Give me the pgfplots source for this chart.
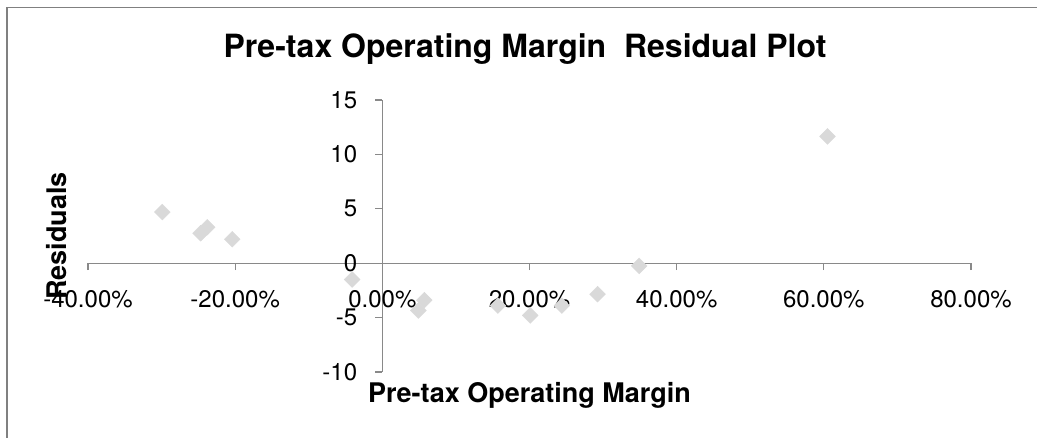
\documentclass[border=0pt]{standalone}
\usepackage{pgfplots}
\pgfplotsset{compat=1.18}
\usepackage{fontspec}
\setmainfont{TeX Gyre Heros}
\definecolor{axgray}{RGB}{137,137,137}
\definecolor{frgray}{RGB}{128,128,128}
\definecolor{mkgray}{RGB}{217,217,217}
\begin{document}
\begin{tikzpicture}[x=1pt,y=1pt]
\useasboundingbox (0,0) rectangle (1037,438);
\draw[frgray, line width=1.5pt] (6.75,0) -- (6.75,430.25) -- (1037,430.25);
\begin{axis}[
  at={(88pt,66pt)}, anchor=south west,
  scale only axis, width=883pt, height=272pt,
  xmin=-40, xmax=80, ymin=-10, ymax=15,
  axis lines*=middle,
  hide obscured x ticks=false, hide obscured y ticks=false,
  axis line style={axgray, line width=1.2pt, -},
  every tick/.style={axgray, line width=1.2pt},
  tick align=outside, major tick length=7pt,
  xtick={-40,-20,0,20,40,60,80},
  xticklabels={-40.00\%,-20.00\%,0.00\%,20.00\%,40.00\%,60.00\%,80.00\%},
  ytick={-10,-5,0,5,10,15},
  yticklabels={-10,-5,0,5,10,15},
  xticklabel style={font=\fontsize{24}{28}\selectfont, anchor=north, inner sep=0pt, yshift=-20pt},
  yticklabel style={font=\fontsize{24}{28}\selectfont, anchor=east, inner sep=0pt, xshift=-18pt},
  clip=false,
]
\addplot[only marks, mark=square*, mark size=5.6pt, mark options={rotate=45, fill=mkgray, draw=mkgray}] coordinates {
(-29.9,4.7) (-24.7,2.75) (-23.8,3.3) (-20.4,2.2) (-4.1,-1.5)
(4.9,-4.35) (5.7,-3.4) (15.7,-3.9) (20.1,-4.8) (24.4,-3.9)
(29.25,-2.85) (34.9,-0.25) (60.5,11.65)
};
\end{axis}
\node[font=\bfseries\fontsize{32}{38}\selectfont, inner sep=0pt] at (525,389) {Pre-tax Operating Margin\ \ Residual Plot};
\node[font=\bfseries\fontsize{27}{32}\selectfont, inner sep=0pt, rotate=90] at (57,202) {Residuals};
\node[font=\bfseries\fontsize{27}{32}\selectfont, inner sep=0pt] at (529.5,42.5) {Pre-tax Operating Margin};
\end{tikzpicture}
\end{document}
